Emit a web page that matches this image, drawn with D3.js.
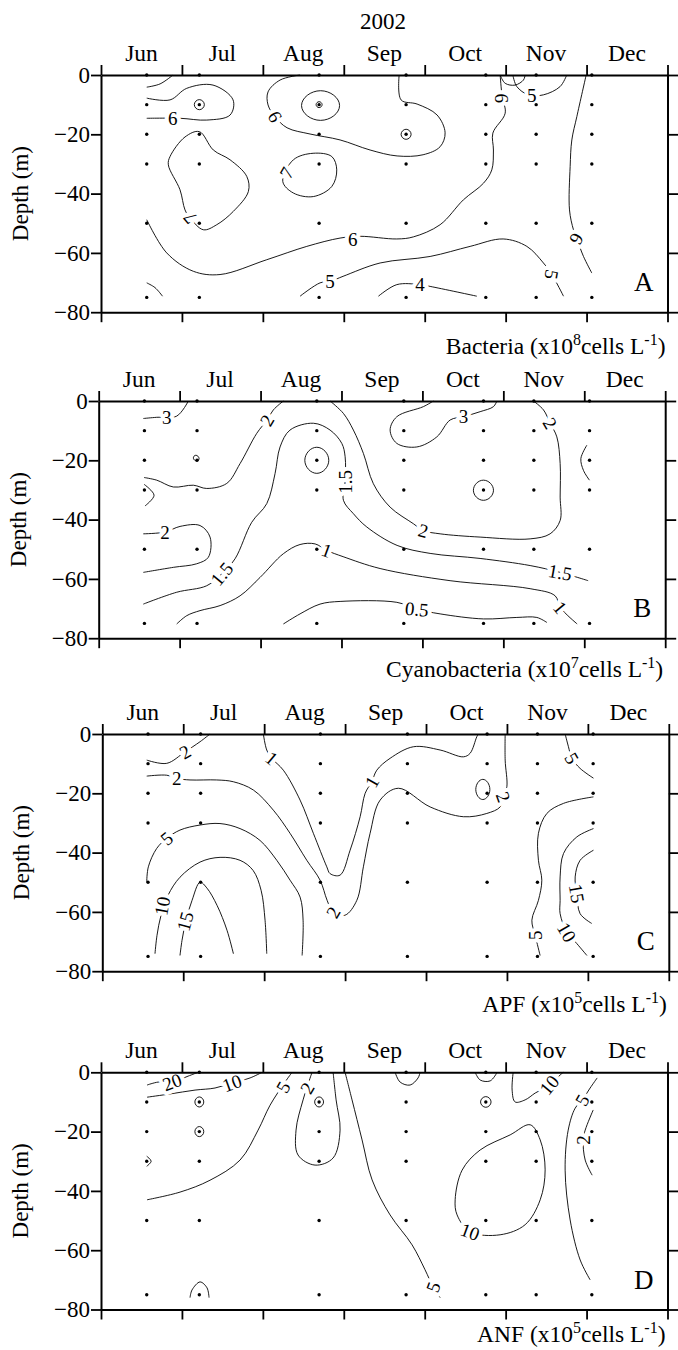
<!DOCTYPE html>
<html>
<head>
<meta charset="utf-8">
<script src="https://cdn.jsdelivr.net/npm/d3@7"></script>
<style>
body { margin: 0; background: #fff; }
text { font-family: "Liberation Serif", "Times New Roman", serif; fill: #000; }
</style>
</head>
<body>
<script>
// x in months since 1 Jun 2002 (0..7), y = depth (m)
var year = "2002";
var months = ["Jun", "Jul", "Aug", "Sep", "Oct", "Nov", "Dec"];
var depthTicks = [0, -20, -40, -60, -80];
var sampleMonths = [0.565, 1.215, 2.695, 3.77, 4.755, 5.377, 6.065];
var sampleDepths = [0, -10, -20, -30, -50, -75];

// contour lines: level, points, closed?, label [x, depth, angle]
var bacteria = [
  {v: "6", pts: [[0.565,-4.1],[0.73,-3],[0.89,0]]},
  {v: "6", pts: [[0.565,-7.8],[0.853,-8.4],[1.059,-4.5],[1.384,-3.4],[1.632,-8.4],[1.595,-13.5],[1.307,-15.2],[0.977,-14.6],[0.565,-14.6]], lab: [0.886,-14.6,0]},
  {v: "", small: true, pts: [[1.153,-10],[1.215,-8.3],[1.277,-10],[1.215,-11.7]]},
  {v: "", small: true, pts: [[2.478,-10.3],[2.713,-5.3],[2.948,-10.3],[2.713,-15.3]]},
  {v: "", small: true, pts: [[2.658,-10],[2.695,-9],[2.732,-10],[2.695,-11]]},
  {v: "6", pts: [[2.46,0],[2.213,-1.7],[2.064,-5.7],[2.064,-10.1],[2.151,-14.1],[2.299,-17.8],[2.583,-19.9],[2.954,-21.9],[3.325,-25.3],[3.659,-27.3],[3.98,-26.9],[4.19,-24.2],[4.252,-19.5],[4.153,-13.5],[3.906,-9.8],[3.708,-8.4],[3.684,0]], lab: [2.151,-14.0,60]},
  {v: "", small: true, pts: [[3.708,-20],[3.77,-18.3],[3.832,-20],[3.77,-21.7]]},
  {v: "6", pts: [[0.565,-48.8],[0.812,-60],[1.141,-66.2],[1.471,-67.3],[2.048,-62.3],[2.543,-57.8],[2.954,-55],[3.202,-54.4],[3.655,-55.3],[3.86,-54.6],[4.19,-50.5],[4.478,-42.1],[4.726,-36.5],[4.829,-32],[4.849,-25.3],[4.842,-19.6],[4.994,-12.9],[4.957,-7.3],[4.932,0]], lab: [3.111,-55.3,0], lab2: [4.953,-7.8,90]},
  {v: "7", closed: true, pts: [[1.215,-19.1],[1.038,-20.9],[0.853,-27.5],[0.832,-30.3],[0.976,-38.7],[1.038,-45.5],[1.1,-48.2],[1.265,-52.2],[1.43,-50.5],[1.635,-46],[1.821,-39.3],[1.801,-34.2],[1.595,-28.6],[1.388,-25.3]], lab: [1.1,-48.2,-130]},
  {v: "7", closed: true, pts: [[2.377,-28.6],[2.621,-26.4],[2.852,-27.5],[2.913,-32],[2.852,-37.6],[2.624,-41],[2.377,-39.8],[2.246,-35.9]], lab: [2.295,-33.0,-60]},
  {v: "5", pts: [[2.46,-74.6],[2.707,-70.1],[2.831,-69.6],[2.991,-67.9],[3.449,-63.4],[4.067,-61.2],[4.561,-57.8],[4.969,-55.3],[5.262,-57.8],[5.467,-63.4],[5.571,-67.3],[5.715,-74.6]], lab: [2.831,-69.6,0], lab2: [5.571,-67.3,100]},
  {v: "4", pts: [[3.428,-74.6],[3.655,-70.7],[3.943,-70.7],[4.067,-71.3],[4.644,-74.6]], lab: [3.943,-70.7,0]},
  {v: "6", pts: [[5.995,0],[5.88,-14],[5.818,-21.9],[5.797,-30.9],[5.789,-45.5],[5.838,-52.2],[5.88,-55.3],[5.962,-61.2],[6.065,-66.8]], lab: [5.88,-55.3,120]},
  {v: "5", pts: [[5.089,0],[5.138,-3.9],[5.282,-6.7],[5.466,-6.7],[5.673,-3.9],[5.755,0]], lab: [5.323,-6.7,0]},
  {v: "", pts: [[4.932,0],[4.994,-2.8],[5.117,-3.4],[5.22,-1.7],[5.241,0]]},
  {v: "", pts: [[0.565,-70.1],[0.667,-71.7],[0.76,-74.6]]}
];

var cyano = [
  {v: "3", pts: [[0.551,-5.9],[0.717,-5.5],[0.964,-5.1],[1.108,0]], lab: [0.841,-5.5,0]},
  {v: "2", pts: [[2.282,0],[2.158,-3],[2.077,-6.5],[1.953,-10.9],[1.747,-21.1],[1.582,-27.8],[1.335,-29.5],[1.169,-28.4],[0.922,-29],[0.717,-26.7],[0.56,-25.8]], lab: [2.077,-6.5,-60]},
  {v: "", small: true, pts: [[1.17,-19.3],[1.2,-18.3],[1.24,-19.3],[1.21,-20.2]]},
  {v: "", pts: [[0.561,-28.1],[0.684,-31.8],[0.572,-35.4]]},
  {v: "2", pts: [[0.551,-44.8],[0.82,-44.2],[1.005,-42.3],[1.252,-42],[1.376,-45.9],[1.355,-52.7],[1.211,-54.9],[0.922,-56.1],[0.551,-57.8]], lab: [0.82,-44.2,0]},
  {v: "1.5", pts: [[0.551,-68.5],[0.964,-64.5],[1.335,-62.3],[1.52,-58.3],[1.685,-53.2],[1.891,-40.9],[2.077,-34.6],[2.179,-24.5],[2.241,-15.5],[2.364,-9.8],[2.653,-7.5],[2.859,-9.8],[3.004,-14.3],[3.045,-18.8],[3.045,-27.3],[3.024,-33.5],[3.147,-38],[3.313,-42.5],[3.687,-48.7],[4.095,-51.4],[4.713,-53.1],[5.331,-55.5],[5.702,-57.8],[6.048,-60.6]], lab: [1.52,-58.3,-50], lab2: [3.045,-27.3,-90], lab3: [5.702,-57.8,10]},
  {v: "", small: true, pts: [[2.547,-20],[2.695,-15.6],[2.843,-20],[2.695,-24.4]]},
  {v: "2", pts: [[2.859,0],[3.024,-4.2],[3.147,-9.8],[3.271,-17.7],[3.394,-27.9],[3.601,-35.8],[3.889,-41.4],[4.012,-43.7],[4.219,-44.8],[4.713,-45.9],[5.331,-46.5],[5.578,-44.8],[5.702,-40.3],[5.702,-32.4],[5.702,-21.1],[5.661,-12.1],[5.578,-7.5],[5.496,-3],[5.372,0]], lab: [4.012,-43.7,15], lab2: [5.578,-7.5,60]},
  {v: "3", pts: [[4.136,0],[4.012,-1.9],[3.684,-5.3],[3.601,-9.8],[3.684,-14.3],[3.931,-15.5],[4.178,-12.1],[4.343,-6.4],[4.507,-5.3],[4.713,-3.6],[4.878,-1.9],[4.92,0]], lab: [4.507,-5.3,0]},
  {v: "", small: true, pts: [[4.63,-30.1],[4.754,-26.7],[4.878,-30.1],[4.754,-33.5]]},
  {v: "", pts: [[6.032,-14.9],[5.958,-19.4],[5.99,-23.4],[6.064,-26.7]]},
  {v: "1", pts: [[0.964,-75.2],[1.088,-72.4],[1.252,-70.7],[1.5,-69],[1.747,-65.7],[1.994,-59.5],[2.282,-51.5],[2.488,-48.4],[2.674,-48.2],[2.818,-50.4],[3.02,-52.5],[3.477,-56.5],[4.342,-60.6],[5.331,-63.3],[5.64,-65.7],[5.702,-69.6],[5.912,-75.2]], lab: [2.818,-50.4,20], lab2: [5.702,-69.6,50]},
  {v: "0.5", pts: [[2.282,-75.2],[2.488,-71.8],[2.735,-68.5],[2.983,-67.6],[3.684,-67.9],[3.931,-70.2],[4.219,-71.8],[4.754,-73.5],[5.167,-73],[5.414,-73],[5.538,-74.7]], lab: [3.931,-70.2,5]}
];

var apf = [
  {v: "2", pts: [[0.549,-8.8],[0.796,-9.9],[1.022,-6],[1.208,-2.6],[1.331,0]], lab: [1.022,-6,-30]},
  {v: "2", pts: [[0.549,-14.2],[0.796,-13.9],[0.92,-15],[1.084,-15.5],[1.414,-15.5],[1.619,-16.1],[1.867,-18.9],[2.114,-25.7],[2.32,-33.5],[2.527,-42.6],[2.691,-49.3],[2.778,-56.1],[2.852,-60.1],[3,-61.1],[3.145,-56.1],[3.226,-44.8],[3.309,-33.5],[3.433,-22.3],[3.659,-18.3],[4.051,-24.6],[4.462,-27.9],[4.751,-26.8],[4.916,-24.6],[4.957,-21.2],[4.999,-17.8],[4.978,-8.8],[4.978,0]], lab: [0.92,-15,0], lab2: [2.852,-60.1,-60], lab3: [4.957,-21.2,70]},
  {v: "1", pts: [[1.99,0],[2.032,-5.4],[2.094,-8.2],[2.237,-12.2],[2.444,-22.3],[2.608,-33.5],[2.774,-44.8],[2.815,-47.1],[2.938,-47.6],[3.062,-39.2],[3.186,-27.9],[3.248,-20],[3.33,-16.1],[3.392,-12.2],[3.556,-8.2],[3.844,-4.3],[4.174,-5.4],[4.462,-7.7],[4.545,-6.5],[4.628,-0.9],[4.648,0]], lab: [2.094,-8.2,40], lab2: [3.33,-16.1,-60]},
  {v: "", small: true, pts: [[4.615,-18.7],[4.702,-15.3],[4.789,-18.7],[4.702,-22.1]]},
  {v: "5", pts: [[0.549,-49.9],[0.569,-44.8],[0.672,-38.6],[0.796,-35.2],[0.96,-32.4],[1.208,-30.7],[1.454,-30.2],[1.702,-31.9],[1.949,-35.9],[2.156,-42.6],[2.32,-49.3],[2.444,-55],[2.481,-62.8],[2.469,-74.7]], lab: [0.796,-35.2,-40]},
  {v: "10", pts: [[0.651,-74.1],[0.676,-67.9],[0.726,-61.1],[0.812,-54.4],[0.96,-48.3],[1.208,-43.2],[1.455,-41.6],[1.702,-42.6],[1.863,-46],[1.962,-52.7],[2.011,-62.8],[2.032,-74.1]], lab: [0.74,-58,-80]},
  {v: "15", pts: [[0.96,-74.7],[0.985,-69.6],[1.035,-62.8],[1.109,-56.1],[1.208,-50],[1.294,-52],[1.418,-57.8],[1.541,-66.2],[1.62,-74.1]], lab: [1.022,-63.2,-75]},
  {v: "5", pts: [[5.719,0],[5.76,-4.3],[5.802,-8.2],[5.904,-11.6],[6.069,-14.9]], lab: [5.802,-8.2,60]},
  {v: "5", pts: [[6.069,-21.2],[5.699,-23.4],[5.493,-26.8],[5.389,-33.5],[5.389,-42.6],[5.431,-49.3],[5.389,-56.1],[5.308,-62.8],[5.349,-67.9],[5.41,-74.7]], lab: [5.349,-67.9,-90]},
  {v: "10", pts: [[6.069,-31.9],[5.864,-34.7],[5.699,-40.3],[5.657,-48.2],[5.657,-56.1],[5.657,-60.6],[5.74,-66.8],[5.864,-70.7],[5.988,-74.7]], lab: [5.74,-66.8,60]},
  {v: "15", pts: [[6.069,-39.2],[5.904,-42.6],[5.843,-48.2],[5.864,-53.8],[5.904,-60.6],[6.048,-63.9]], lab: [5.864,-53.8,80]}
];

var anf = [
  {v: "20", pts: [[0.569,-4.3],[0.705,-3.3],[0.878,-3.3],[1.076,-1.3],[1.199,0]], lab: [0.878,-3.3,-20]},
  {v: "10", pts: [[0.569,-8.4],[0.853,-7.3],[1.162,-6],[1.409,-5.3],[1.619,-3.6],[1.842,-1.9],[1.99,0]], lab: [1.619,-3.6,-20]},
  {v: "5", pts: [[0.569,-43],[0.977,-40.4],[1.347,-36.4],[1.718,-29.6],[1.941,-19.5],[2.089,-11.1],[2.274,-3.3],[2.361,0]], lab: [2.25,-5,-60]},
  {v: "2", pts: [[2.608,0],[2.497,-9.3],[2.41,-19.5],[2.435,-27.9],[2.645,-31.3],[2.868,-28.9],[2.954,-19.5],[2.905,-9.3],[2.868,0]], lab: [2.546,-5.3,-60]},
  {v: "", small: true, pts: [[2.64,-10],[2.695,-8.3],[2.75,-10],[2.695,-11.7]]},
  {v: "", small: true, pts: [[1.16,-10],[1.215,-8.3],[1.27,-10],[1.215,-11.7]]},
  {v: "", small: true, pts: [[1.16,-20],[1.215,-18.3],[1.27,-20],[1.215,-21.7]]},
  {v: "", pts: [[0.565,-28.3],[0.62,-30],[0.565,-31.7]]},
  {v: "5", pts: [[3.016,0],[3.102,-9.3],[3.226,-22.8],[3.35,-36.3],[3.572,-48.1],[3.844,-58.2],[4.004,-66.6],[4.104,-72.4],[4.191,-76]], lab: [4.104,-72.4,-70]},
  {v: "", pts: [[3.634,0],[3.696,-3.3],[3.819,-4.3],[3.918,-1.9],[3.943,0]]},
  {v: "", pts: [[4.623,0],[4.685,-2.6],[4.809,-2.9],[4.895,0]]},
  {v: "", small: true, pts: [[4.69,-10],[4.755,-8.2],[4.82,-10],[4.755,-11.8]]},
  {v: "10", pts: [[5.093,0],[5.08,-6],[5.117,-10],[5.241,-9.3],[5.365,-7],[5.538,-4.3],[5.674,-0.9],[5.711,0]], lab: [5.538,-4.3,-50]},
  {v: "10", closed: true, pts: [[4.376,-43],[4.462,-33],[4.685,-26.2],[5.056,-21.1],[5.303,-17.7],[5.427,-22.8],[5.488,-32.9],[5.427,-43],[5.241,-51.4],[4.932,-54.8],[4.561,-53.8],[4.4,-48.1]], lab: [4.561,-53.8,20]},
  {v: "5", pts: [[6.131,-1.9],[6.044,-5.3],[5.946,-9.4],[5.859,-12.1],[5.773,-19.5],[5.735,-33],[5.797,-49.8],[5.921,-63.3],[6.044,-70]], lab: [5.946,-9.4,-60]},
  {v: "2", pts: [[6.082,-12.7],[5.983,-19.5],[5.958,-22.8],[5.983,-29.6],[6.069,-34.7]], lab: [5.958,-22.8,-90]},
  {v: "", pts: [[1.1,-76],[1.125,-73.4],[1.224,-70.7],[1.31,-72.7],[1.335,-76]]}
];

var panels = [
  {top: 75,     left: 101,   title: "Bacteria (x10",      exp: "8", letter: "A", lines: bacteria, tdy: 42},
  {top: 401,    left: 98.7,  title: "Cyanobacteria (x10", exp: "7", letter: "B", lines: cyano,    tdy: 39},
  {top: 734,    left: 102.3, title: "APF (x10",           exp: "5", letter: "C", lines: apf,      tdy: 41},
  {top: 1072.3, left: 101,   title: "ANF (x10",           exp: "5", letter: "D", lines: anf,      tdy: 33}
];

var W = 678, H = 1350;
var pw = 566.5, ph = 237.2;

var svg = d3.select("body").append("svg").attr("width", W).attr("height", H);

var x = d3.scaleLinear().domain([0, 7]).range([0, pw]);
var y = d3.scaleLinear().domain([0, -80]).range([0, ph]);

svg.append("text").attr("x", 383).attr("y", 29).attr("text-anchor", "middle")
  .attr("font-size", 23).text(year);

var openLine = d3.line().x(function(d){ return x(d[0]); }).y(function(d){ return y(d[1]); })
  .curve(d3.curveCatmullRom.alpha(0.5));
var closedLine = d3.line().x(function(d){ return x(d[0]); }).y(function(d){ return y(d[1]); })
  .curve(d3.curveCatmullRomClosed.alpha(0.5));
var loopLine = d3.line().x(function(d){ return x(d[0]); }).y(function(d){ return y(d[1]); })
  .curve(d3.curveCardinalClosed.tension(-0.55));

panels.forEach(function(p){
  var g = svg.append("g").attr("transform", "translate(" + p.left + "," + p.top + ")");

  // contour lines
  g.selectAll("path.c").data(p.lines).enter().append("path")
    .attr("class", "c")
    .attr("fill", "none").attr("stroke", "#000").attr("stroke-width", 0.9)
    .attr("d", function(d){
      if (d.small) return loopLine(d.pts);
      return d.closed ? closedLine(d.pts) : openLine(d.pts);
    });

  // contour labels
  var labs = [];
  p.lines.forEach(function(l){
    ["lab", "lab2", "lab3"].forEach(function(k){ if (l[k]) labs.push({v: l.v, at: l[k]}); });
  });
  g.selectAll("text.cl").data(labs).enter().append("text")
    .attr("class", "cl")
    .attr("transform", function(d){ return "translate(" + x(d.at[0]) + "," + y(d.at[1]) + ") rotate(" + d.at[2] + ")"; })
    .attr("text-anchor", "middle").attr("dy", "0.35em")
    .attr("font-size", 19)
    .attr("stroke", "#fff").attr("stroke-width", 8).attr("stroke-linejoin", "round").attr("paint-order", "stroke")
    .text(function(d){ return d.v; });

  // sample points
  var pts = [];
  sampleMonths.forEach(function(m){ sampleDepths.forEach(function(z){ pts.push([m, z]); }); });
  g.selectAll("circle").data(pts).enter().append("circle")
    .attr("cx", function(d){ return x(d[0]); }).attr("cy", function(d){ return y(d[1]); })
    .attr("r", 1.7).attr("fill", "#000");

  // axes
  var top = g.append("g").call(d3.axisTop(x).tickValues(d3.range(0, 8)).tickSize(10).tickSizeOuter(0).tickFormat(""));
  var bot = g.append("g").attr("transform", "translate(0," + ph + ")")
    .call(d3.axisBottom(x).tickValues(d3.range(0, 8)).tickSize(10).tickSizeOuter(0).tickFormat(""));
  var lft = g.append("g").call(d3.axisLeft(y).tickValues(depthTicks).tickSize(10).tickSizeOuter(0).tickPadding(1));
  var rgt = g.append("g").attr("transform", "translate(" + pw + ",0)")
    .call(d3.axisRight(y).tickValues(depthTicks).tickSize(11).tickSizeOuter(0).tickFormat(""));
  [top, bot, lft, rgt].forEach(function(a){
    a.selectAll("path.domain").attr("stroke-width", 2);
    a.selectAll("line").attr("stroke-width", 1.8);
  });
  lft.selectAll("text").attr("font-size", 23).attr("font-family", "Liberation Serif, serif").attr("fill", "#000");

  g.selectAll("text.mon").data(months).enter().append("text")
    .attr("class", "mon")
    .attr("x", function(d, i){ return x(i + 0.5); }).attr("y", -14)
    .attr("text-anchor", "middle").attr("font-size", 23.5)
    .text(function(d){ return d; });

  g.append("text").attr("transform", "translate(-73," + (ph / 2) + ") rotate(-90)")
    .attr("text-anchor", "middle").attr("font-size", 23).text("Depth (m)");

  g.append("text").attr("x", pw - 14).attr("y", y(-73)).attr("text-anchor", "end")
    .attr("font-size", 27).text(p.letter);

  var t = g.append("text").attr("x", pw - 2).attr("y", ph + p.tdy).attr("text-anchor", "end").attr("font-size", 23.5);
  t.append("tspan").text(p.title);
  t.append("tspan").attr("dy", -9).attr("font-size", 16).text(p.exp);
  t.append("tspan").attr("dy", 9).text("cells L");
  t.append("tspan").attr("dy", -9).attr("font-size", 16).text("-1");
  t.append("tspan").attr("dy", 9).text(")");
});
</script>
</body>
</html>
